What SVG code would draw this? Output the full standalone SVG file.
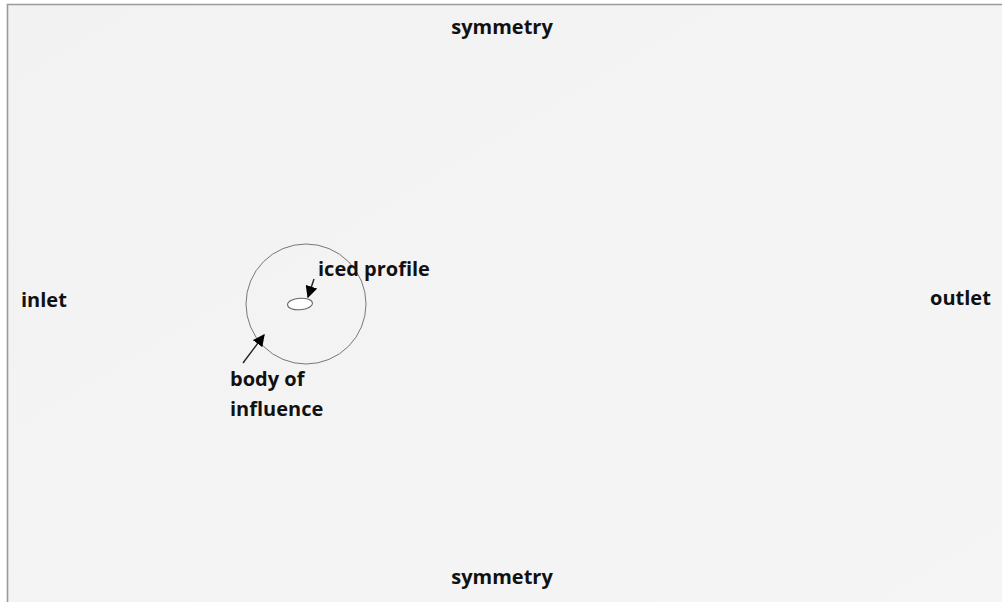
<svg xmlns="http://www.w3.org/2000/svg" width="1002" height="602" viewBox="0 0 1002 602">
<style>
.lbl{font-family:"Open Sans","Liberation Sans",sans-serif;font-weight:700;font-size:20px;fill:#111}
.ln{stroke:#222;stroke-width:1.4;fill:none}
</style>
<defs>
<marker id="ah" viewBox="0 0 10 10" refX="9" refY="5" markerWidth="12" markerHeight="12" markerUnits="userSpaceOnUse" orient="auto">
<path d="M0,0 L10,5 L0,10 z" fill="#000"/>
</marker>
<linearGradient id="bg" x1="0" y1="0" x2="1" y2="1">
<stop offset="0" stop-color="#f2f2f2"/>
<stop offset="1" stop-color="#f5f5f5"/>
</linearGradient>
</defs>
<rect x="0" y="0" width="1002" height="602" fill="#fff"/>
<rect x="8" y="5" width="994" height="597" fill="url(#bg)"/>
<path d="M7.5,602 V4.5 H1002" stroke="#9a9a9a" stroke-width="1.6" fill="none"/>
<g id="domain">
<circle id="body-of-influence" cx="306" cy="304" r="60" fill="none" stroke="#777" stroke-width="1"/>
<ellipse id="iced-profile" cx="300" cy="304" rx="12.5" ry="5.8" transform="rotate(-4 300 304)" fill="#fff" stroke="#666" stroke-width="1"/>
</g>
<g id="connectors">
<line class="ln" x1="314" y1="279" x2="308" y2="297" marker-end="url(#ah)"/>
<line class="ln" x1="243" y1="363" x2="264" y2="335" marker-end="url(#ah)"/>
</g>
<g id="labels">
<text class="lbl" x="502" y="34" text-anchor="middle">symmetry</text>
<text class="lbl" x="502" y="584" text-anchor="middle">symmetry</text>
<text class="lbl" x="21" y="307">inlet</text>
<text class="lbl" x="930" y="305">outlet</text>
<text class="lbl" x="318" y="276">iced profile</text>
<text class="lbl" x="230" y="386">body of</text>
<text class="lbl" x="230" y="416">influence</text>
</g>
</svg>
